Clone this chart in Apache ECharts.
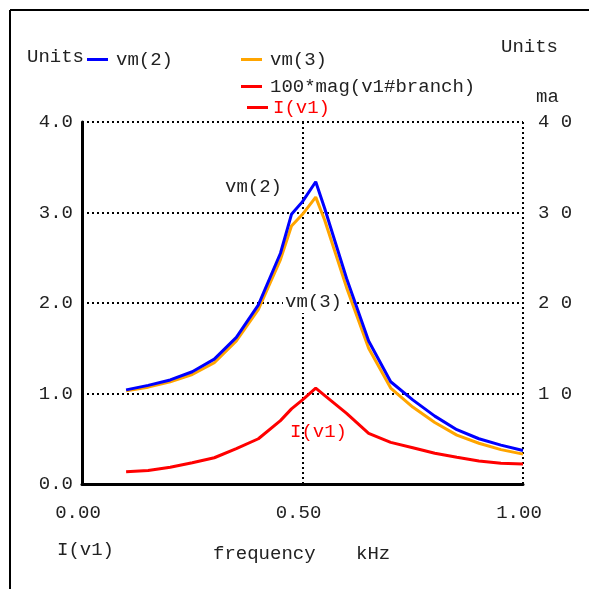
<!DOCTYPE html>
<html>
<head>
<meta charset="utf-8">
<script src="https://cdn.jsdelivr.net/npm/echarts@6/dist/echarts.min.js"></script>
<style>html,body{margin:0;padding:0;background:#fff}#c{width:589px;height:589px}</style>
</head>
<body>
<div id="c"></div>
<script>
// frequency in kHz
var freq = [0.10, 0.15, 0.20, 0.25, 0.30, 0.35, 0.40, 0.45, 0.475, 0.50, 0.53, 0.55, 0.60, 0.65, 0.70, 0.75, 0.80, 0.85, 0.90, 0.95, 1.00];
// vm(2) in Units
var vm2 = [1.04, 1.09, 1.15, 1.24, 1.38, 1.62, 1.98, 2.55, 2.98, 3.12, 3.34, 3.05, 2.27, 1.58, 1.13, 0.93, 0.75, 0.60, 0.50, 0.43, 0.37];
// vm(3) in Units
var vm3 = [1.03, 1.07, 1.13, 1.21, 1.34, 1.58, 1.93, 2.48, 2.85, 2.98, 3.17, 2.92, 2.17, 1.50, 1.06, 0.85, 0.68, 0.54, 0.45, 0.38, 0.33];
// I(v1) in ma
var iv1 = [1.36, 1.50, 1.85, 2.35, 2.90, 3.90, 5.00, 7.00, 8.30, 9.30, 10.6, 9.80, 7.80, 5.60, 4.60, 4.00, 3.40, 2.95, 2.55, 2.30, 2.20];
var xTicks = [0, 0.5, 1.0];
var leftTicks = [0, 1, 2, 3, 4];
var rightTicks = [0, 10, 20, 30, 40];

var FONT = 'Liberation Mono';
function pairs(xs, ys) { return xs.map(function (x, i) { return [x, ys[i]]; }); }

var chart = echarts.init(document.getElementById('c'), null, {renderer: 'canvas'});
var dotted = {color: '#000', width: 2, type: [2, 3]};

chart.setOption({
  animation: false,
  backgroundColor: '#fff',
  grid: {left: 82, right: 66, top: 122, bottom: 105},
  legend: [
    {data: ['vm(2)'], left: 82, top: 45, icon: 'rect', itemWidth: 21, itemHeight: 3,
     textStyle: {fontFamily: FONT, fontSize: 19, color: '#222', padding: [0, 0, 0, 3]}},
    {data: ['vm(3)', '100*mag(v1#branch)'], orient: 'vertical', left: 236, top: 45, itemGap: 8,
     icon: 'rect', itemWidth: 21, itemHeight: 3,
     textStyle: {fontFamily: FONT, fontSize: 19, color: '#222', padding: [0, 0, 0, 3]}},
    {data: ['I(v1)'], left: 242, top: 93, icon: 'rect', itemWidth: 21, itemHeight: 3,
     textStyle: {fontFamily: FONT, fontSize: 19, color: '#ff0000', padding: [0, 0, 0, 0]}}
  ],
  xAxis: {
    type: 'value', min: 0, max: 1, interval: 0.5,
    axisLine: {show: true, onZero: false, lineStyle: {color: '#000', width: 3}},
    axisTick: {show: false},
    splitLine: {show: true, lineStyle: dotted},
    axisLabel: {margin: 19, fontFamily: FONT, fontSize: 19, color: '#222', padding: [0, 8, 0, 0],
      formatter: function (v) { return v.toFixed(2); }}
  },
  yAxis: [
    {type: 'value', min: 0, max: 4, interval: 1, position: 'left',
     axisLine: {show: true, lineStyle: {color: '#000', width: 3}},
     axisTick: {show: false},
     splitLine: {show: true, lineStyle: dotted},
     axisLabel: {margin: 9, fontFamily: FONT, fontSize: 19, color: '#222', padding: [5, 0, 0, 0],
       formatter: function (v) { return v.toFixed(1); }}},
    {type: 'value', min: 0, max: 40, interval: 10, position: 'right',
     axisLine: {show: false}, axisTick: {show: false}, splitLine: {show: false},
     axisLabel: {margin: 15, fontFamily: FONT, fontSize: 19, color: '#222', padding: [5, 0, 0, 0],
       formatter: function (v) { return v === 0 ? '' : String(v).split('').join(' '); }}}
  ],
  series: [
    {name: 'vm(2)', type: 'line', data: pairs(freq, vm2), yAxisIndex: 0, showSymbol: false,
     color: '#0000ff', lineStyle: {width: 3, color: '#0000ff'}, z: 4},
    {name: 'vm(3)', type: 'line', data: pairs(freq, vm3), yAxisIndex: 0, showSymbol: false,
     color: '#ffa500', lineStyle: {width: 3, color: '#ffa500'}, z: 3},
    {name: '100*mag(v1#branch)', type: 'line', data: [], yAxisIndex: 0, showSymbol: false,
     color: '#ff0000', lineStyle: {width: 3, color: '#ff0000'}},
    {name: 'I(v1)', type: 'line', data: pairs(freq, iv1), yAxisIndex: 1, showSymbol: false,
     color: '#ff0000', lineStyle: {width: 3, color: '#ff0000'}, z: 3}
  ],
  graphic: [
    {type: 'line', shape: {x1: 10, y1: 10, x2: 589, y2: 10}, style: {stroke: '#000', lineWidth: 2}},
    {type: 'line', shape: {x1: 10, y1: 10, x2: 10, y2: 589}, style: {stroke: '#000', lineWidth: 2}},
    {type: 'text', left: 27, top: 47, style: {text: 'Units', font: '19px ' + FONT, fill: '#222'}},
    {type: 'text', left: 501, top: 37, style: {text: 'Units', font: '19px ' + FONT, fill: '#222'}},
    {type: 'text', left: 536, top: 87, style: {text: 'ma', font: '19px ' + FONT, fill: '#222'}},
    {type: 'text', left: 57, top: 540, style: {text: 'I(v1)', font: '19px ' + FONT, fill: '#222'}},
    {type: 'text', left: 213, top: 544, style: {text: 'frequency', font: '19px ' + FONT, fill: '#222'}},
    {type: 'text', left: 356, top: 544, style: {text: 'kHz', font: '19px ' + FONT, fill: '#222'}},
    {type: 'text', left: 225, top: 177, z: 10, style: {text: 'vm(2)', font: '19px ' + FONT, fill: '#222'}},
    {type: 'text', left: 283, top: 290, z: 10, style: {text: 'vm(3)', font: '19px ' + FONT, fill: '#222',
      backgroundColor: '#fff', padding: [2, 2, 2, 2]}},
    {type: 'text', left: 290, top: 422, z: 10, style: {text: 'I(v1)', font: '19px ' + FONT, fill: '#ff0000'}}
  ]
});
</script>
</body>
</html>
